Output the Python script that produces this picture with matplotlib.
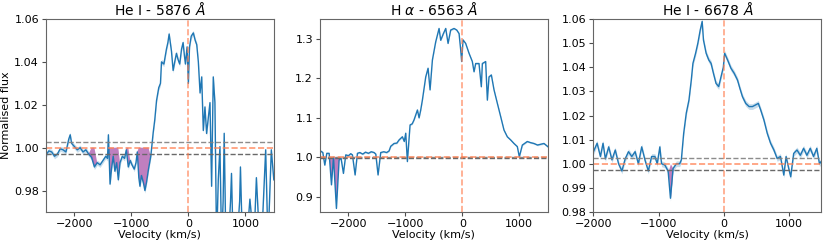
import matplotlib
matplotlib.use('Agg')
import matplotlib.pyplot as plt
import numpy as np

# He I 5876
v1 = [-2500,-2450,-2400,-2350,-2300,-2250,-2200,-2150,-2100,-2075,-2050,-2000,-1950,-1900,-1850,-1800,
      -1750,-1700,-1650,-1600,-1550,-1500,-1450,-1420,-1404,-1375,-1350,-1320,-1290,-1260,-1230,-1200,
      -1160,-1120,-1090,-1055,-1020,-990,-950,-920,-897,-870,-850,-825,-804,-785,-763,-734,-700,-660,
      -618,-590,-559,-520,-490,-472,-430,-385,-360,-338,-297,-268,-240,-210,-180,-152,-120,-93,-70,-52,
      -23,0,20,50,87,120,147,175,205,234,262,291,320,350,379,408,437,466,495,525,554,583,610,629,658,
      700,740,757,786,850,900,914,949,1020,1080,1150,1194,1252,1300,1357,1398,1456,1500]
f1 = [0.9966,0.9985,0.998,0.996,0.997,0.9995,0.999,0.998,1.004,1.006,1.002,1.0005,0.999,1.000,0.998,0.999,
      0.997,0.9955,0.991,0.993,0.992,0.994,0.996,0.995,1.006,0.983,0.990,0.996,0.989,0.993,0.985,0.993,
      0.996,0.995,0.999,0.991,0.994,0.992,0.990,0.993,0.998,0.986,0.982,0.987,0.985,0.983,0.980,0.984,0.990,0.996,
      1.007,1.013,1.022,1.028,1.030,1.040,1.039,1.046,1.049,1.053,1.045,1.036,1.040,1.044,1.041,1.039,1.046,1.049,1.043,1.039,
      1.047,1.030,1.047,1.052,1.0535,1.050,1.048,1.040,1.0255,1.033,1.008,1.019,1.0066,1.014,1.021,0.982,1.033,1.021,0.955,0.985,1.0005,0.955,0.975,1.0067,0.955,
      0.955,0.975,0.988,0.955,0.955,0.975,0.991,0.955,0.955,0.976,0.955,0.986,0.955,0.965,0.999,0.955,0.999,0.985]

# H alpha
v2 = [-2500,-2450,-2415,-2380,-2339,-2298,-2263,-2211,-2164,-2130,-2088,-2047,-2000,-1960,-1930,-1883,-1842,
      -1800,-1750,-1700,-1650,-1600,-1550,-1520,-1480,-1433,-1380,-1330,-1287,-1257,-1199,-1150,-1111,-1053,
      -1020,-994,-965,-918,-880,-848,-789,-760,-731,-702,-643,-602,-567,-526,-468,-409,-380,-333,-292,-251,
      -205,-146,-99,-58,-29,-12,12,58,117,175,205,234,292,333,351,409,439,468,509,556,614,673,731,789,848,
      906,965,1000,1053,1140,1200,1257,1320,1374,1433,1500]
f2 = [1.017,1.012,0.980,1.010,1.010,0.930,1.000,0.870,0.993,0.998,0.959,1.006,1.004,1.009,1.006,0.955,1.010,
      1.012,1.008,1.013,1.010,1.014,1.012,1.008,0.955,1.012,1.014,1.012,1.016,1.028,1.035,1.036,1.044,1.052,
      1.040,1.061,0.989,1.082,1.085,1.095,1.120,1.100,1.120,1.145,1.204,1.226,1.171,1.247,1.293,1.327,1.297,1.314,1.327,1.289,
      1.323,1.327,1.323,1.314,1.272,1.243,1.298,1.289,1.264,1.243,1.217,1.238,1.238,1.179,1.238,1.243,1.145,1.204,1.209,1.171,1.137,1.103,1.069,1.052,1.044,
      1.035,1.027,1.001,1.031,1.040,1.037,1.035,1.031,1.033,1.035,1.027]

# He I 6678
v3 = [-2000,-1944,-1893,-1853,-1817,-1766,-1716,-1665,-1614,-1563,-1513,-1462,-1411,-1360,-1310,-1259,-1208,
      -1157,-1107,-1056,-1020,-980,-954,-904,-853,-817,-777,-726,-675,-650,-614,-574,-533,-497,-472,-431,-396,
      -360,-330,-310,-269,-228,-193,-157,-117,-76,-41,-5,15,61,112,162,213,249,289,340,391,442,492,533,569,
      619,670,721,772,822,873,924,959,1000,1030,1076,1127,1178,1228,1279,1330,1381,1431,1472,1500]
f3 = [1.005,1.0085,1.003,1.0085,1.002,1.007,1.0016,1.0057,1.000,0.997,1.002,1.005,1.003,1.005,1.000,1.007,1.0015,
      0.997,1.003,1.003,1.000,1.007,1.000,0.9995,0.997,0.9857,0.998,1.000,1.000,1.0016,1.0126,1.021,1.0264,1.0347,1.0416,1.0458,1.050,
      1.0554,1.059,1.0513,1.0458,1.043,1.0416,1.0375,1.0333,1.032,1.036,1.040,1.0458,1.043,1.0396,1.0375,1.0347,1.0313,1.0278,1.025,1.0237,1.0237,1.0244,1.025,1.0223,
      1.0181,1.0126,1.0085,1.0057,1.0022,1.003,0.9953,1.003,0.998,0.9946,1.0043,1.0057,1.0035,1.0064,1.0035,1.0064,1.003,1.0064,1.000,1.001]

titles = ['He I - 5876 $\\AA$', 'H $\\alpha$ - 6563 $\\AA$', 'He I - 6678 $\\AA$']
errs = [0.0012, 0.002, 0.0012]          # flux uncertainty band
sigmas = [0.0028, 0.0015, 0.0024]       # continuum noise level
windows = [[(-1720, -1630), (-1400, -1225), (-1090, -1030), (-870, -670)],
           [(-2320, -2150)],
           [(-850, -790)]]
xlims = [(-2500, 1500), (-2500, 1500), (-2000, 1500)]
ylims = [(0.97, 1.06), (0.861, 1.351), (0.98, 1.06)]
yticks = [[0.98, 1.00, 1.02, 1.04, 1.06],
          [0.9, 1.0, 1.1, 1.2, 1.3],
          [0.98, 0.99, 1.00, 1.01, 1.02, 1.03, 1.04, 1.05, 1.06]]

fig = plt.figure(figsize=(8.3, 2.45), dpi=100)
lefts = [0.0554, 0.3855, 0.715]
data = [(v1, f1), (v2, f2), (v3, f3)]

for i, (v, f) in enumerate(data):
    ax = fig.add_axes([lefts[i], 0.1347, 0.2745, 0.7877])
    v = np.array(v)
    f = np.array(f)
    ax.fill_between(v, f - errs[i], f + errs[i], color='#1f77b4', alpha=0.25, lw=0)
    ax.plot(v, f, color='#1f77b4', lw=1.0)
    mask = np.zeros(len(v), dtype=bool)
    for lo, hi in windows[i]:
        mask |= (v >= lo) & (v <= hi)
    ax.fill_between(v, f, 1.0, where=mask & (f < 1), interpolate=True, color='purple', alpha=0.5, lw=0)
    ax.axhline(1 + sigmas[i], color='grey', ls='--', lw=1.0, alpha=0.9)
    ax.axhline(1 - sigmas[i], color='dimgrey', ls='--', lw=1.0)
    ax.axhline(1.0, color='coral', ls='--', lw=1.2, alpha=0.8)
    ax.axvline(0, color='coral', ls='--', lw=1.2, alpha=0.7)
    ax.set_xlim(xlims[i])
    ax.set_ylim(ylims[i])
    ax.set_yticks(yticks[i])
    ax.set_title(titles[i], fontsize=10, pad=3)
    ax.set_xlabel('Velocity (km/s)', fontsize=8, labelpad=1)
    ax.tick_params(labelsize=8, length=3, pad=2, color='0.3')
    for s in ax.spines.values():
        s.set_color('0.4')
        s.set_linewidth(0.8)
    if i == 0:
        ax.set_ylabel('Normalised flux', fontsize=8, labelpad=2)

fig.savefig('out.png', dpi=100)
